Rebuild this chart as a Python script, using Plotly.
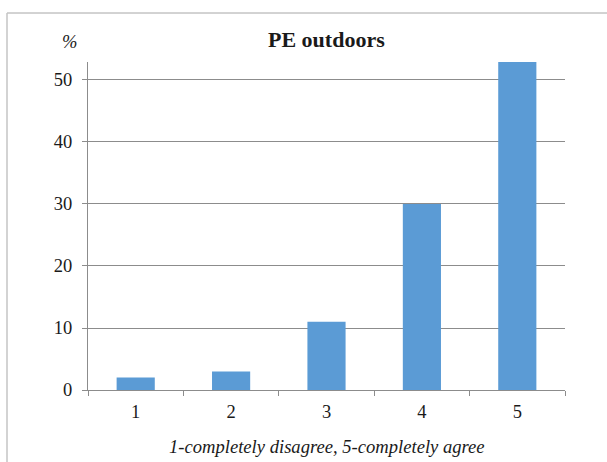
import plotly.graph_objects as go

# Survey responses: share of respondents per agreement level
levels = ["1", "2", "3", "4", "5"]
percent = [2, 3, 11, 30, 53]
y_ticks = [0, 10, 20, 30, 40, 50]

SERIF = "Liberation Serif"
GRID = "#8c8c8c"
TEXT = "#1a1a1a"

fig = go.Figure(
    go.Bar(
        x=levels,
        y=percent,
        marker=dict(color="#5b9bd5", line=dict(width=0)),
        hoverinfo="x+y",
    )
)

fig.update_layout(
    width=607,
    height=462,
    margin=dict(l=88, r=42, t=62, b=72),
    paper_bgcolor="white",
    plot_bgcolor="white",
    bargap=0.6,
    showlegend=False,
    font=dict(family=SERIF, size=18, color=TEXT),
    xaxis=dict(
        type="category",
        tickson="boundaries",
        ticks="outside",
        ticklen=5,
        tickcolor=GRID,
        showline=True,
        linecolor=GRID,
        linewidth=1,
        showgrid=False,
        ticklabelstandoff=5,
        tickfont=dict(family=SERIF, size=18.5, color=TEXT),
    ),
    yaxis=dict(
        range=[0, 52.9],
        tickvals=y_ticks,
        ticks="outside",
        ticklen=5,
        tickcolor=GRID,
        showline=True,
        linecolor=GRID,
        linewidth=1,
        showgrid=True,
        gridcolor=GRID,
        gridwidth=1,
        zeroline=False,
        ticklabelstandoff=6,
        tickfont=dict(family=SERIF, size=18.5, color=TEXT),
    ),
    annotations=[
        dict(
            text="<b>PE outdoors</b>",
            xref="paper", yref="paper",
            x=0.5, y=(390 - 40) / 328,
            xanchor="center", yanchor="middle",
            showarrow=False,
            font=dict(family=SERIF, size=22, color=TEXT),
        ),
        dict(
            text="<i>%</i>",
            xref="paper", yref="paper",
            x=(69 - 88) / 477, y=(390 - 42) / 328,
            xanchor="center", yanchor="middle",
            showarrow=False,
            font=dict(family=SERIF, size=18.5, color=TEXT),
        ),
        dict(
            text="<i>1-completely disagree, 5-completely agree</i>",
            xref="paper", yref="paper",
            x=0.5, y=(390 - 446) / 328,
            xanchor="center", yanchor="middle",
            showarrow=False,
            font=dict(family=SERIF, size=18.6, color=TEXT),
        ),
    ],
    shapes=[
        # chart frame: top and left edges
        dict(type="line", xref="paper", yref="paper",
             x0=(7 - 88) / 477, x1=(612 - 88) / 477,
             y0=(390 - 13) / 328, y1=(390 - 13) / 328,
             line=dict(color="#a6a6a6", width=1)),
        dict(type="line", xref="paper", yref="paper",
             x0=(7 - 88) / 477, x1=(7 - 88) / 477,
             y0=(390 - 13) / 328, y1=(390 - 470) / 328,
             line=dict(color="#c4c4c4", width=1.5)),
    ],
)

fig.write_html("out.html")
